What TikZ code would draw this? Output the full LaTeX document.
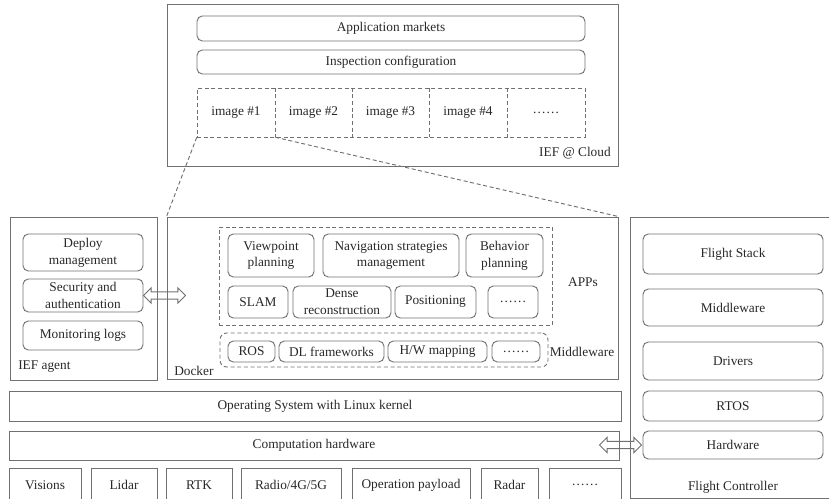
\documentclass[tikz,border=0pt]{standalone}
\usepackage{fontspec}
\setmainfont{Liberation Serif}
\usetikzlibrary{shapes.arrows,calc}
\definecolor{ln}{RGB}{112,112,112}
\definecolor{tx}{RGB}{40,40,40}
\tikzset{
  base/.style={draw=ln, line width=0.7pt, text=tx, inner sep=0pt, align=center, font=\fontsize{10}{12.5}\selectfont},
  sbox/.style={base},
  rbox/.style={base, rounded corners=4pt},
  dbox/.style={base, dash pattern=on 3pt off 2pt},
  drbox/.style={base, dash pattern=on 3pt off 2pt, rounded corners=5pt},
  plain/.style={text=tx, inner sep=0pt, font=\fontsize{10}{12.5}\selectfont},
  dline/.style={draw=ln, line width=0.7pt, dash pattern=on 3pt off 2pt},
  dblarrow/.style={double arrow, draw=ln, line width=0.7pt, inner xsep=0pt, inner ysep=2.4pt,
    double arrow head extend=3pt, double arrow head indent=0pt, minimum height=31.5pt}
}
\newcommand\bx[7]{\node[#1, minimum width={(#5-#3)*0.75pt}, minimum height={(#6-#4)*0.75pt}] (#2) at ({(#3+#5)/2},{(#4+#6)/2}) {#7};}
\begin{document}
\begin{tikzpicture}[x=0.75pt, y=-0.75pt]
\useasboundingbox (0,0) rectangle (829,499);
\clip (0,0) rectangle (829,499);
% Cloud
\bx{sbox}{cloud}{167}{4}{618}{166}{}
\bx{rbox}{appm}{197}{16}{585}{41}{Application markets}
\bx{rbox}{insp}{197}{50}{585}{74}{Inspection configuration}
\bx{dbox}{imgrow}{197}{88}{585}{137}{}
\bx{plain}{img1}{197}{88}{275}{137}{image \#1}
\bx{plain}{img2}{275}{88}{352}{137}{image \#2}
\bx{plain}{img3}{352}{88}{429}{137}{image \#3}
\bx{plain}{img4}{429}{88}{507}{137}{image \#4}
\bx{plain}{img5}{507}{88}{585}{137}{\dots\dots}
\foreach \n in {img1,img2,img3,img4}{\draw[dline] (\n.north east) -- (\n.south east);}
\node[plain, anchor=east] (cloudlbl) at (611,153) {IEF @ Cloud};
% IEF agent
\bx{sbox}{agent}{10}{217}{157}{380}{}
\bx{rbox}{deploy}{23}{234}{143}{271}{Deploy\\management}
\bx{rbox}{secu}{23}{279}{143}{312}{Security and\\authentication}
\bx{rbox}{monit}{23}{321}{143}{350}{Monitoring logs}
\node[plain, anchor=west] (agentlbl) at (18,367) {IEF agent};
% Docker
\bx{sbox}{docker}{167}{217}{618}{379}{}
\bx{dbox}{apps}{219}{227}{552}{325}{}
\bx{rbox}{viewp}{228}{234}{314}{277}{Viewpoint\\planning}
\bx{rbox}{navi}{323}{234}{459}{277}{Navigation strategies\\management}
\bx{rbox}{behav}{466}{234}{543}{277}{Behavior\\planning}
\bx{rbox}{slam}{228}{286}{288}{318}{SLAM}
\bx{rbox}{dense}{293}{286}{391}{318}{Dense\\reconstruction}
\bx{rbox}{posit}{395}{286}{476}{318}{Positioning}
\bx{rbox}{appdots}{488}{286}{538}{318}{\dots\dots}
\bx{drbox}{midw}{220}{333}{548}{367}{}
\bx{rbox}{ros}{228}{341}{275}{362}{ROS}
\bx{rbox}{dlf}{279}{341}{384}{362}{DL frameworks}
\bx{rbox}{hwm}{388}{341}{487}{362}{H/W mapping}
\bx{rbox}{mwdots}{492}{341}{540}{362}{\dots\dots}
\node[plain] (appslbl) at (583,282) {APPs};
\node[plain] (midlbl) at (582,352) {Middleware};
\node[plain, anchor=west] (dockerlbl) at (174,371) {Docker};
% zoom lines
\draw[dline] (img1.south west) -- (docker.north west);
\draw[dline] (img1.south east) -- (docker.north east);
% OS and hardware
\bx{sbox}{os}{9}{391}{621}{421}{Operating System with Linux kernel}
\bx{sbox}{comp}{9}{431}{619}{460}{Computation hardware}
\bx{sbox}{vis}{9}{468}{81}{502}{Visions}
\bx{sbox}{lidar}{91}{468}{157}{502}{Lidar}
\bx{sbox}{rtk}{166}{468}{232}{502}{RTK}
\bx{sbox}{radio}{241}{468}{341}{502}{Radio/4G/5G}
\bx{sbox}{oppl}{352}{468}{470}{502}{Operation payload}
\bx{sbox}{radar}{481}{468}{538}{502}{Radar}
\bx{sbox}{sdots}{549}{468}{621}{502}{\dots\dots}
% Flight controller
\bx{sbox}{fc}{630}{217}{840}{498}{}
\bx{rbox}{fstack}{643}{234}{823}{274}{Flight Stack}
\bx{rbox}{fmid}{643}{289}{823}{326}{Middleware}
\bx{rbox}{fdrv}{643}{342}{823}{380}{Drivers}
\bx{rbox}{rtos}{643}{391}{823}{421}{RTOS}
\bx{rbox}{fhw}{643}{431}{823}{459}{Hardware}
\node[plain] (fclbl) at (733,487) {Flight Controller};
% arrows
\node[dblarrow] (arr1) at ($(secu.east)+(21,0)$) {};
\node[dblarrow] (arr2) at ($(fhw.west)+(-22,0)$) {};
\end{tikzpicture}
\end{document}
